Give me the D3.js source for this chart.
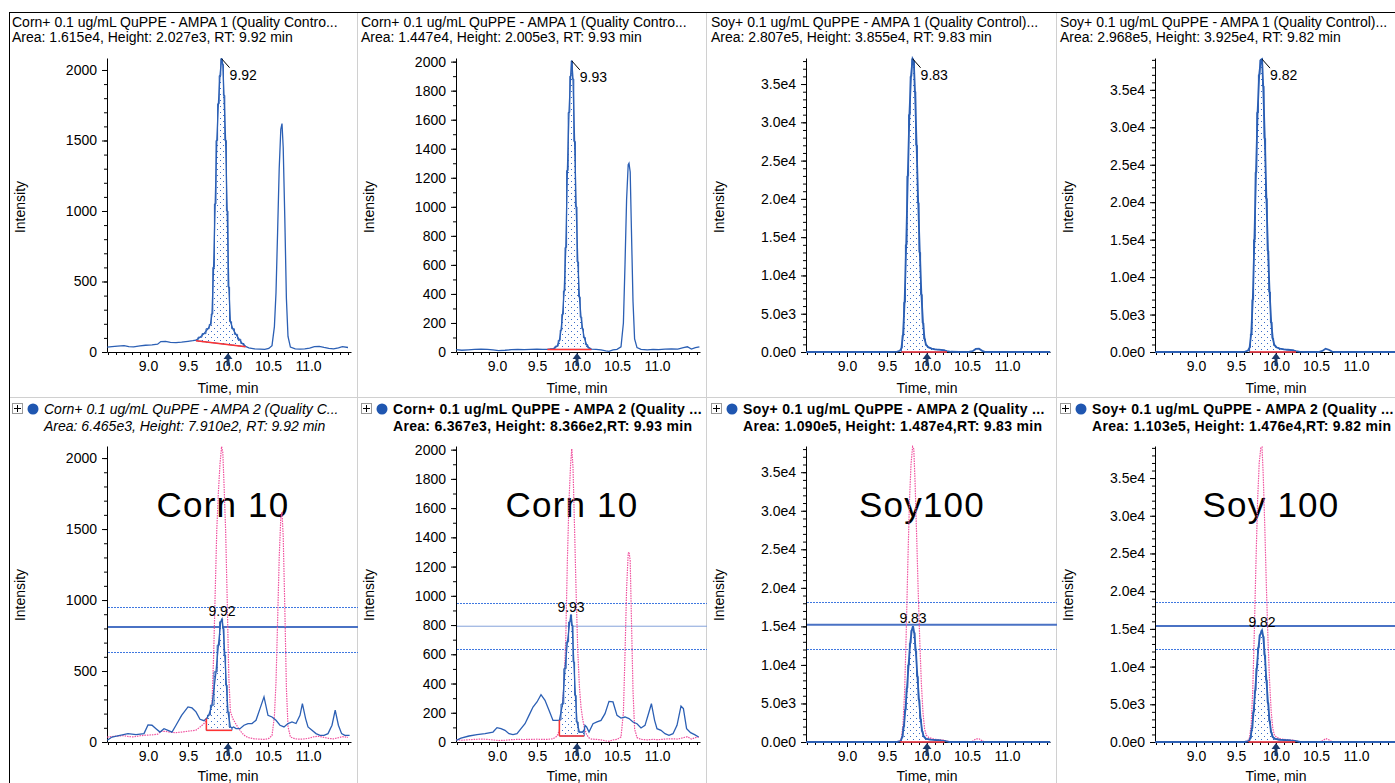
<!DOCTYPE html>
<html>
<head>
<meta charset="utf-8">
<script src="https://cdn.jsdelivr.net/npm/d3@7"></script>
<style>
  body { margin: 0; background: #fff; }
  svg { display: block; }
  text { font-family: "Liberation Sans", Arial, sans-serif; }
</style>
</head>
<body>
<div id="chart"></div>
<script>
// ---- data ----
const topTitles = [
  "Corn+ 0.1 ug/mL QuPPE - AMPA 1 (Quality Contro...",
  "Corn+ 0.1 ug/mL QuPPE - AMPA 1 (Quality Contro...",
  "Soy+ 0.1 ug/mL QuPPE - AMPA 1 (Quality Control)...",
  "Soy+ 0.1 ug/mL QuPPE - AMPA 1 (Quality Control)..."
];
const topInfo = [
  "Area: 1.615e4, Height: 2.027e3, RT: 9.92 min",
  "Area: 1.447e4, Height: 2.005e3, RT: 9.93 min",
  "Area: 2.807e5, Height: 3.855e4, RT: 9.83 min",
  "Area: 2.968e5, Height: 3.925e4, RT: 9.82 min"
];
const bottomTitles = [
  "Corn+ 0.1 ug/mL QuPPE - AMPA 2 (Quality C...",
  "Corn+ 0.1 ug/mL QuPPE - AMPA 2 (Quality ...",
  "Soy+ 0.1 ug/mL QuPPE - AMPA 2 (Quality ...",
  "Soy+ 0.1 ug/mL QuPPE - AMPA 2 (Quality ..."
];
const bottomInfo = [
  "Area: 6.465e3, Height: 7.910e2, RT: 9.92 min",
  "Area: 6.367e3, Height: 8.366e2,RT: 9.93 min",
  "Area: 1.090e5, Height: 1.487e4,RT: 9.83 min",
  "Area: 1.103e5, Height: 1.476e4,RT: 9.82 min"
];
const sampleLabels = ["Corn 10", "Corn 10", "Soy100", "Soy 100"];
const topRT = ["9.92", "9.93", "9.83", "9.82"];
const bottomRT = ["9.92", "9.93", "9.83", "9.82"];
const expectedRT = 10.0;

const xTicks = [9.0, 9.5, 10.0, 10.5, 11.0];
const yMax = [2085, 2025, 38400, 39250];
const yTicks = [
  [0, 500, 1000, 1500, 2000],
  [0, 200, 400, 600, 800, 1000, 1200, 1400, 1600, 1800, 2000],
  [0, 5000, 10000, 15000, 20000, 25000, 30000, 35000],
  [0, 5000, 10000, 15000, 20000, 25000, 30000, 35000]
];

// quality control traces (top row, also overlaid in pink below)
const corn1QC = [[8.49,35],[8.55,38],[8.62,42],[8.70,45],[8.76,38],[8.82,36],[8.90,44],[8.97,48],[9.05,50],[9.12,55],[9.16,74],[9.22,75],[9.28,68],[9.35,66],[9.42,70],[9.50,76],[9.56,80],[9.60,84],[9.65,105],[9.70,130],[9.75,165],[9.78,195],[9.80,270],[9.82,600],[9.84,1050],[9.86,1500],[9.88,1760],[9.90,1960],[9.92,2080],[9.935,2040],[9.95,1820],[9.97,1500],[9.99,1000],[10.01,460],[10.03,215],[10.06,165],[10.10,125],[10.14,90],[10.18,60],[10.22,40],[10.26,30],[10.33,22],[10.40,20],[10.46,18],[10.51,25],[10.55,45],[10.58,180],[10.60,420],[10.62,850],[10.64,1300],[10.66,1580],[10.675,1620],[10.69,1450],[10.71,950],[10.73,380],[10.75,110],[10.78,35],[10.84,22],[10.90,20],[10.96,22],[11.02,28],[11.08,38],[11.14,40],[11.20,32],[11.26,25],[11.32,22],[11.38,30],[11.43,38],[11.50,32]];
const corn2QC = [[8.49,16],[8.56,12],[8.64,15],[8.72,18],[8.80,20],[8.88,18],[8.95,14],[9.02,10],[9.10,12],[9.18,16],[9.26,18],[9.34,17],[9.42,18],[9.50,19],[9.57,18],[9.63,18],[9.70,22],[9.75,40],[9.78,80],[9.80,150],[9.82,260],[9.84,420],[9.86,720],[9.88,1250],[9.90,1650],[9.92,1900],[9.935,2005],[9.95,1880],[9.97,1450],[9.99,1000],[10.01,620],[10.03,380],[10.05,240],[10.07,160],[10.09,100],[10.12,50],[10.15,28],[10.18,20],[10.24,18],[10.30,15],[10.36,8],[10.40,5],[10.45,14],[10.50,18],[10.55,35],[10.58,200],[10.60,600],[10.62,1050],[10.64,1290],[10.65,1300],[10.665,1240],[10.68,850],[10.70,350],[10.72,90],[10.75,30],[10.80,18],[10.88,15],[10.95,18],[11.02,16],[11.10,20],[11.18,22],[11.26,20],[11.33,30],[11.38,36],[11.43,20],[11.48,30],[11.53,35]];
const soy1QC = [[8.49,0],[8.80,0],[9.20,0],[9.50,0],[9.62,20],[9.66,150],[9.68,500],[9.70,2200],[9.72,6500],[9.74,14000],[9.76,23000],[9.78,31000],[9.80,36000],[9.82,38300],[9.835,38000],[9.85,34000],[9.87,27000],[9.89,19500],[9.91,13000],[9.93,7500],[9.95,3800],[9.97,1700],[9.99,900],[10.02,600],[10.06,450],[10.10,350],[10.15,300],[10.20,250],[10.25,120],[10.30,30],[10.40,0],[10.52,0],[10.57,100],[10.61,400],[10.65,420],[10.69,150],[10.73,0],[11.00,0],[11.30,0],[11.54,0]];
const soy2QC = [[8.49,0],[9.00,0],[9.50,0],[9.61,30],[9.65,200],[9.67,600],[9.69,2400],[9.71,7000],[9.73,15000],[9.75,24000],[9.77,32000],[9.79,37000],[9.81,39000],[9.825,39100],[9.84,35500],[9.86,28500],[9.88,20500],[9.90,13500],[9.92,8000],[9.94,4000],[9.96,1800],[9.98,900],[10.01,600],[10.05,450],[10.10,350],[10.15,300],[10.20,250],[10.25,120],[10.30,30],[10.40,0],[10.53,0],[10.58,150],[10.62,450],[10.66,300],[10.70,50],[10.74,0],[11.00,0],[11.54,0]];

// sample traces (bottom row)
const corn1S = [[8.49,12],[8.55,35],[8.65,47],[8.75,59],[8.85,52],[8.95,59],[9.00,120],[9.05,118],[9.10,94],[9.15,70],[9.20,94],[9.25,82],[9.30,70],[9.35,118],[9.42,188],[9.50,247],[9.55,240],[9.60,212],[9.65,160],[9.70,150],[9.73,165],[9.76,190],[9.80,260],[9.85,494],[9.88,682],[9.91,847],[9.925,866],[9.94,800],[9.96,612],[9.98,400],[10.00,212],[10.03,106],[10.05,100],[10.07,106],[10.10,94],[10.15,94],[10.20,118],[10.25,130],[10.30,130],[10.35,153],[10.40,235],[10.45,318],[10.50,188],[10.55,176],[10.60,153],[10.65,118],[10.70,106],[10.75,130],[10.80,141],[10.85,130],[10.90,188],[10.93,271],[10.97,165],[11.00,106],[11.05,82],[11.10,59],[11.15,47],[11.20,47],[11.25,59],[11.30,118],[11.34,224],[11.38,118],[11.42,59],[11.46,47],[11.52,47]];
const corn2S = [[8.49,11],[8.55,27],[8.65,41],[8.75,50],[8.85,57],[8.95,68],[9.00,98],[9.05,91],[9.10,80],[9.15,57],[9.20,50],[9.25,57],[9.30,91],[9.35,125],[9.40,182],[9.45,239],[9.50,274],[9.55,324],[9.60,285],[9.65,217],[9.70,148],[9.75,148],[9.78,150],[9.82,260],[9.85,502],[9.88,684],[9.91,821],[9.925,870],[9.94,798],[9.96,547],[9.98,319],[10.00,137],[10.03,68],[10.07,68],[10.09,80],[10.10,114],[10.12,103],[10.15,68],[10.20,125],[10.25,137],[10.30,148],[10.35,194],[10.40,278],[10.45,274],[10.50,182],[10.55,164],[10.60,171],[10.65,160],[10.70,137],[10.75,125],[10.80,96],[10.85,114],[10.90,205],[10.93,262],[10.97,148],[11.00,91],[11.05,80],[11.10,57],[11.15,46],[11.20,57],[11.25,114],[11.30,245],[11.33,228],[11.37,91],[11.42,64],[11.47,50],[11.52,34]];
const soy1S = [[8.49,0],[9.00,0],[9.50,0],[9.62,0],[9.67,100],[9.69,600],[9.71,2000],[9.73,4200],[9.75,7000],[9.77,10000],[9.79,12800],[9.81,14500],[9.825,15000],[9.84,14200],[9.86,11800],[9.88,8500],[9.90,5500],[9.92,3000],[9.94,1400],[9.96,700],[9.99,400],[10.05,300],[10.12,250],[10.22,150],[10.28,0],[11.00,0],[11.54,0]];
const soy2S = [[8.49,0],[9.00,0],[9.50,0],[9.61,0],[9.66,100],[9.68,500],[9.70,1800],[9.72,4000],[9.74,6800],[9.76,9800],[9.78,12500],[9.80,14200],[9.825,14800],[9.84,14000],[9.86,11500],[9.88,8200],[9.90,5200],[9.92,2800],[9.94,1300],[9.96,650],[9.99,400],[10.05,300],[10.12,250],[10.24,150],[10.30,0],[11.00,0],[11.54,0]];

const topSeries = [corn1QC, corn2QC, soy1QC, soy2QC];
const bottomSeries = [corn1S, corn2S, soy1S, soy2S];

// integration windows: [start time, baseline at start, end time, baseline at end]
const topWindows = [[9.60, 80, 10.22, 38], [9.63, 18, 10.18, 18], [9.68, 0, 10.25, 0], [9.67, 0, 10.25, 0]];
const bottomWindows = [[9.73, 82, 10.05, 82], [9.78, 41, 10.09, 41], [9.67, 0, 10.22, 0], [9.66, 0, 10.24, 0]];

// ion ratio lines: expected, upper and lower tolerance
const ratioExpected = [810, 792, 15200, 15380];
const ratioUpper = [950, 949, 18200, 18560];
const ratioLower = [634, 635, 12090, 12330];

// ---- drawing ----
const width = 1395, height = 783;
const blue = "#2b5fb4", pink = "#f0509e", red = "#ff3333";
const fontSize = 14;

const svg = d3.select("#chart").append("svg")
  .attr("width", width)
  .attr("height", height);

const pattern = svg.append("defs").append("pattern")
  .attr("id", "dots")
  .attr("width", 6).attr("height", 6)
  .attr("patternUnits", "userSpaceOnUse");
pattern.append("rect").attr("width", 6).attr("height", 6).attr("fill", "#fff");
pattern.append("rect").attr("x", 1).attr("y", 1).attr("width", 1).attr("height", 1).attr("fill", "#3a6cc8");
pattern.append("rect").attr("x", 4).attr("y", 4).attr("width", 1).attr("height", 1).attr("fill", "#3a6cc8");

function colX(c) { return Math.round(c * 349.4); }

// window frame
svg.append("line").attr("x1", 9).attr("x2", width).attr("y1", 12.5).attr("y2", 12.5).attr("stroke", "#000");
svg.append("line").attr("x1", 9.5).attr("x2", 9.5).attr("y1", 12).attr("y2", height).attr("stroke", "#000");
svg.append("line").attr("x1", 10).attr("x2", width).attr("y1", 397.5).attr("y2", 397.5).attr("stroke", "#d0d0d0");
[0, 1, 2].forEach(c => {
  const x = colX(c) + 357.5;
  svg.append("line").attr("x1", x).attr("x2", x).attr("y1", 13).attr("y2", height).attr("stroke", "#d0d0d0");
});

const fmtE = v => d3.format(".1e")(v).replace("e+", "e");

function drawPanel(c, row) {
  const x0 = colX(c);
  const isTop = row === 0;
  const yBottom = isTop ? 352 : 742;
  const yTop = isTop ? 58 : 446;
  const data = isTop ? topSeries[c] : bottomSeries[c];
  const win = isTop ? topWindows[c] : bottomWindows[c];
  const g = svg.append("g");

  const x = d3.scaleLinear().domain([8.4875, 11.5375]).range([x0 + 107, x0 + 351]);
  const y = d3.scaleLinear().domain([0, yMax[c]]).range([yBottom, yTop]);

  // titles
  if (isTop) {
    g.append("text").attr("x", x0 + 12).attr("y", 27).attr("font-size", fontSize).text(topTitles[c]);
    g.append("text").attr("x", x0 + 12).attr("y", 42).attr("font-size", fontSize).text(topInfo[c]);
  } else {
    g.append("rect").attr("x", x0 + 12.5).attr("y", 403.5).attr("width", 10).attr("height", 10)
      .attr("fill", "#fff").attr("stroke", "#999");
    g.append("path").attr("d", `M${x0 + 14},408.5H${x0 + 21}M${x0 + 17.5},405V412`).attr("stroke", "#000");
    g.append("circle").attr("cx", x0 + 33).attr("cy", 409).attr("r", 5.5).attr("fill", "#1f56b0");
    const italic = c === 0;
    [[bottomTitles[c], 414], [bottomInfo[c], 431]].forEach(([t, ty]) => {
      g.append("text").attr("x", x0 + 44).attr("y", ty).attr("font-size", fontSize)
        .attr("font-style", italic ? "italic" : "normal")
        .attr("font-weight", italic ? "normal" : "bold")
        .attr("letter-spacing", italic ? 0 : 0.3)
        .text(t);
    });
  }

  // axes
  const yAxis = g.append("g").attr("transform", `translate(${x0 + 107},0)`)
    .call(d3.axisLeft(y).tickValues(yTicks[c]).tickSize(5).tickSizeOuter(0)
      .tickFormat(c < 2 ? d3.format("d") : fmtE));
  const minorStep = c < 2 ? 100 : 1000;
  g.append("g").attr("transform", `translate(${x0 + 107},0)`)
    .call(d3.axisLeft(y).tickValues(d3.range(0, yMax[c], minorStep)).tickSize(3).tickFormat(""))
    .select(".domain").remove();
  const xAxis = g.append("g").attr("transform", `translate(0,${yBottom})`)
    .call(d3.axisBottom(x).tickValues(xTicks).tickSize(5).tickSizeOuter(0).tickFormat(d3.format(".1f")));
  g.append("g").attr("transform", `translate(0,${yBottom})`)
    .call(d3.axisBottom(x).tickValues(d3.range(8.5, 11.55, 0.1)).tickSize(3).tickFormat(""))
    .select(".domain").remove();
  [yAxis, xAxis].forEach(a => a.selectAll("text")
    .attr("font-size", fontSize).attr("font-family", "Liberation Sans, Arial, sans-serif").attr("fill", "#000"));
  yAxis.selectAll("text").attr("x", -10);
  xAxis.selectAll("text").attr("y", 9);

  g.append("text")
    .attr("transform", `translate(${x0 + 25},${isTop ? 207 : 595}) rotate(-90)`)
    .attr("text-anchor", "middle").attr("font-size", fontSize).text("Intensity");
  g.append("text").attr("x", x0 + 228).attr("y", isTop ? 393 : 781)
    .attr("text-anchor", "middle").attr("font-size", fontSize).text("Time, min");

  if (!isTop) {
    g.append("text").attr("x", x0 + 223).attr("y", 517)
      .attr("text-anchor", "middle").attr("font-size", 35)
      .attr("font-family", "Lato, 'Liberation Sans', sans-serif").attr("font-weight", 300)
      .attr("letter-spacing", 1.2)
      .text(sampleLabels[c]);
  }

  // ion ratio window lines
  if (!isTop) {
    [ratioUpper[c], ratioLower[c]].forEach(v => {
      g.append("line").attr("x1", x0 + 108).attr("x2", x0 + 358)
        .attr("y1", Math.round(y(v)) + 0.5).attr("y2", Math.round(y(v)) + 0.5)
        .attr("stroke", "#3f78e0").attr("stroke-dasharray", "2,1");
    });
    g.append("line").attr("x1", x0 + 108).attr("x2", x0 + 358)
      .attr("y1", y(ratioExpected[c])).attr("y2", y(ratioExpected[c]))
      .attr("stroke", c === 1 ? "#86a2da" : "#4a72c4").attr("stroke-width", c === 1 ? 1 : 2);
  }

  // reference trace overlay
  if (!isTop) {
    g.append("path").datum(topSeries[c])
      .attr("fill", "none").attr("stroke", pink).attr("stroke-width", 1.2)
      .attr("stroke-dasharray", "1.5,1")
      .attr("d", d3.line().x(d => x(d[0])).y(d => y(d[1])));
  }

  // integrated peak
  const [s, bs, e, be] = win;
  const base = t => bs + (be - bs) * (t - s) / (e - s);
  const inWin = data.filter(d => d[0] >= s && d[0] <= e);
  g.append("path").datum(inWin)
    .attr("fill", "url(#dots)").attr("stroke", blue).attr("stroke-width", 1)
    .attr("d", d3.area().curve(d3.curveStep)
      .x(d => x(d[0])).y0(d => y(base(d[0]))).y1(d => y(d[1])));

  g.append("path").datum(data)
    .attr("fill", "none").attr("stroke", blue).attr("stroke-width", c < 2 ? 1.3 : 1.8)
    .attr("d", d3.line().x(d => x(d[0])).y(d => y(d[1])));

  g.append("line").attr("x1", x(s)).attr("x2", x(e)).attr("y1", y(bs)).attr("y2", y(be))
    .attr("stroke", red).attr("stroke-width", 1.5);
  if (!isTop) {
    g.append("line").attr("x1", x(s)).attr("x2", x(s)).attr("y1", y(bs)).attr("y2", y(inWin[0][1]))
      .attr("stroke", red).attr("stroke-width", 1.5);
  }

  // retention time label
  const apex = d3.greatest(data, d => d[1]);
  const ax = x(apex[0]), ay = y(apex[1]);
  if (isTop) {
    g.append("line").attr("x1", ax).attr("y1", ay).attr("x2", ax + 8).attr("y2", ay + 9)
      .attr("stroke", "#000");
    g.append("text").attr("x", ax + 8).attr("y", ay + 21).attr("font-size", fontSize).text(topRT[c]);
  } else {
    g.append("text").attr("x", ax).attr("y", ay - 3).attr("text-anchor", "middle")
      .attr("font-size", fontSize).text(bottomRT[c]);
  }

  // expected retention time marker
  const mx = x(expectedRT);
  g.append("path")
    .attr("d", `M${mx},${yBottom + 1}L${mx + 4.5},${yBottom + 7}L${mx + 1.5},${yBottom + 7}L${mx + 1.5},${yBottom + 14}L${mx - 1.5},${yBottom + 14}L${mx - 1.5},${yBottom + 7}L${mx - 4.5},${yBottom + 7}Z`)
    .attr("fill", "#1b3a6b");
}

[0, 1, 2, 3].forEach(c => {
  drawPanel(c, 0);
  drawPanel(c, 1);
});
</script>
</body>
</html>
